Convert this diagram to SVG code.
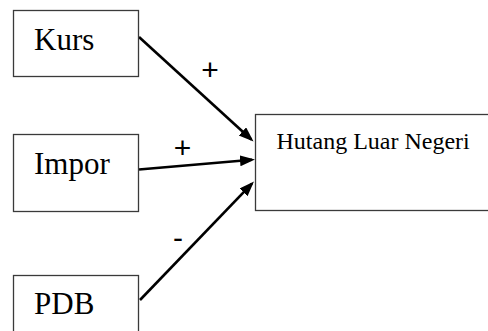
<svg xmlns="http://www.w3.org/2000/svg" width="488" height="331" viewBox="0 0 488 331">
  <style>
    .box { fill: #fff; stroke: #3a3a3a; stroke-width: 1.3; }
    .lbl { font-family: "Liberation Serif", "Times New Roman", serif; fill: #000; }
    .big { font-size: 31px; }
    .mid { font-size: 24px; }
    .sign { font-family: "Liberation Sans", Arial, sans-serif; font-size: 30px; fill: #000; text-anchor: middle; }
    .conn { stroke: #000; stroke-width: 2.6; fill: none; marker-end: url(#arrow); }
  </style>
  <defs>
    <marker id="arrow" markerUnits="userSpaceOnUse" markerWidth="16" markerHeight="12" refX="12" refY="5.5" orient="auto">
      <path d="M0,0 L15,5.5 L0,11 z" fill="#000"/>
    </marker>
  </defs>
  <rect width="488" height="331" fill="#fff"/>

  <g id="connectors">
    <line class="conn" x1="139" y1="37" x2="251.3" y2="139.5"/>
    <line class="conn" x1="139" y1="169.5" x2="252" y2="159.8"/>
    <line class="conn" x1="140" y1="300" x2="251.9" y2="183.7"/>
    <text class="sign" x="210" y="80">+</text>
    <text class="sign" x="182.5" y="157.7">+</text>
    <text class="sign" x="178" y="247.5">-</text>
  </g>

  <g id="kurs">
    <rect class="box" x="13.5" y="10.5" width="125" height="66"/>
    <text class="lbl big" x="34" y="50">Kurs</text>
  </g>

  <g id="impor">
    <rect class="box" x="13.5" y="134.5" width="125" height="77"/>
    <text class="lbl big" x="34" y="173.5">Impor</text>
  </g>

  <g id="pdb">
    <rect class="box" x="13.5" y="275.5" width="125" height="70"/>
    <text class="lbl big" x="34" y="314">PDB</text>
  </g>

  <g id="hutang">
    <rect class="box" x="255.5" y="114.5" width="240" height="96"/>
    <text class="lbl mid" x="276.5" y="148.5">Hutang Luar Negeri</text>
  </g>
</svg>
